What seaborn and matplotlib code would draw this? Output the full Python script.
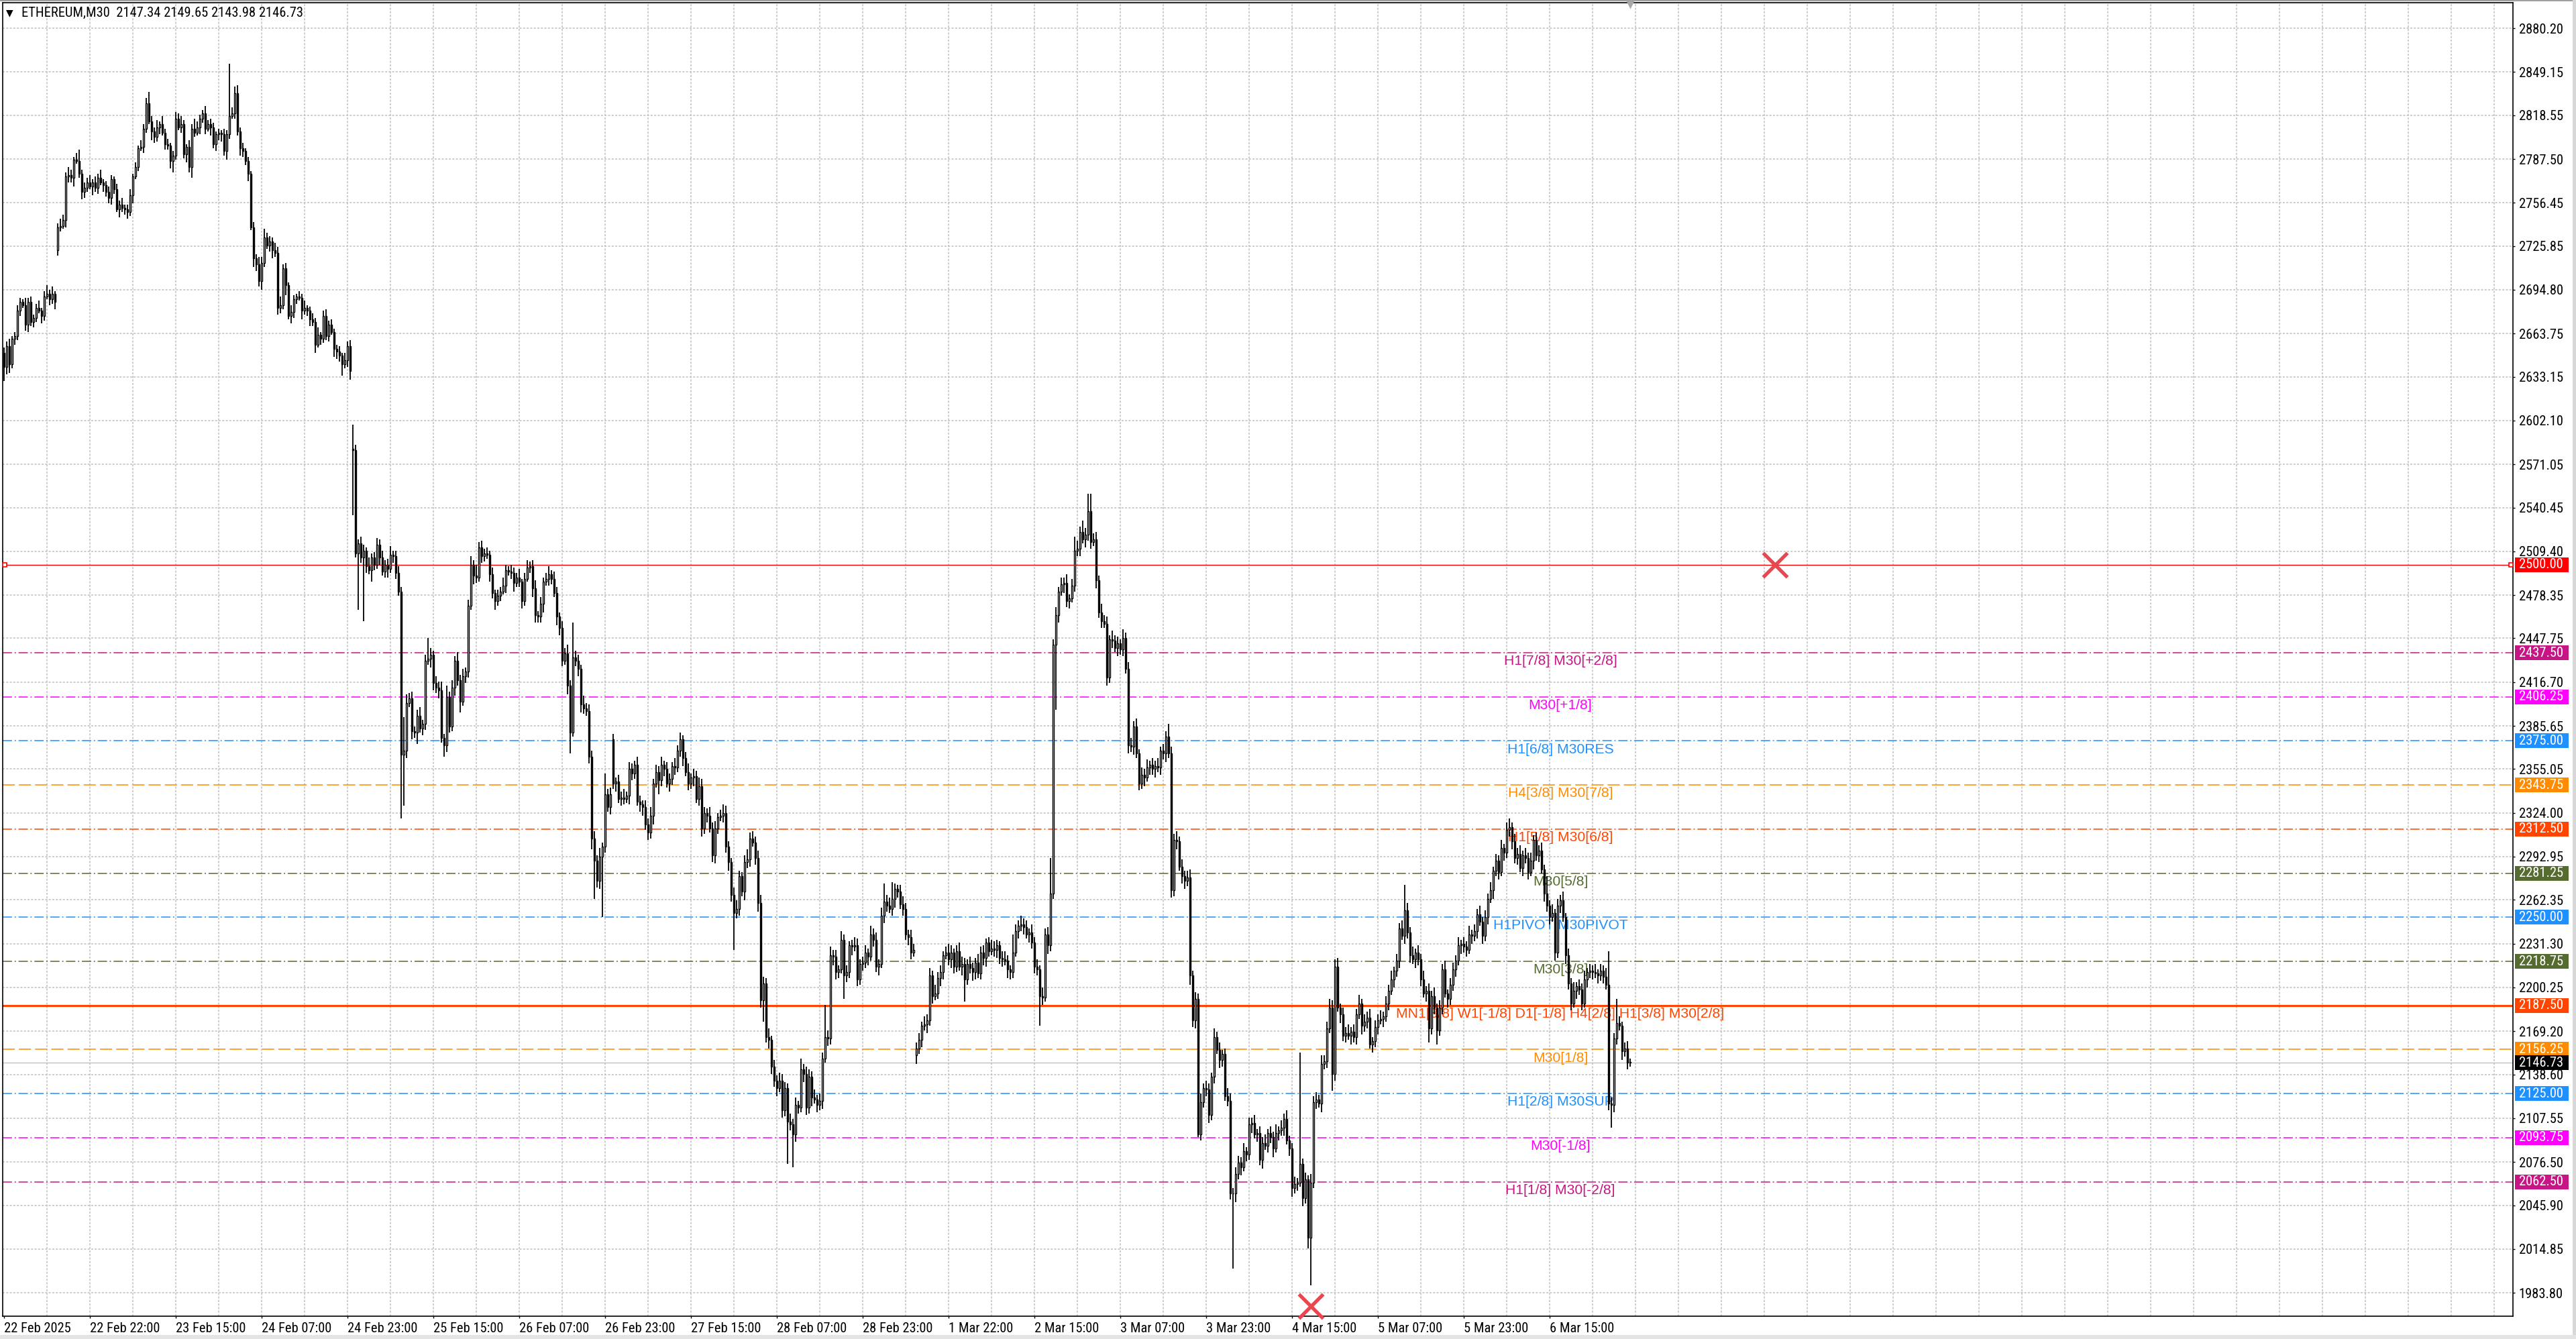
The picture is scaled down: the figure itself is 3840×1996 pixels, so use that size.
import numpy as np
import pandas as pd
import matplotlib
matplotlib.use("Agg")
import matplotlib.pyplot as plt
import matplotlib.transforms as mtransforms
from matplotlib import font_manager as fm
from matplotlib.patches import Rectangle
import seaborn as sns

# ---------------- data ----------------
first_open = 2650
closes = [
    2640, 2655, 2642, 2660, 2662, 2680, 2686, 2684, 2670, 2686, 2672, 2675, 2682, 2680, 2676, 2690, 2692, 2688, 2692, 2686,
    2739, 2740, 2744, 2775, 2776, 2774, 2787, 2786, 2777, 2764, 2767, 2771, 2768, 2771, 2767, 2774, 2771, 2769, 2764, 2760,
    2773, 2766, 2752, 2755, 2753, 2752, 2750, 2762, 2775, 2782, 2795, 2796, 2809, 2827, 2814, 2807, 2803, 2810, 2812, 2806,
    2798, 2797, 2786, 2790, 2816, 2810, 2812, 2791, 2796, 2782, 2809, 2806, 2810, 2816, 2820, 2809, 2812, 2810, 2798, 2805,
    2806, 2805, 2793, 2805, 2818, 2820, 2834, 2807, 2795, 2793, 2786, 2777, 2739, 2717, 2713, 2701, 2714, 2732, 2726, 2729,
    2723, 2721, 2682, 2684, 2710, 2698, 2676, 2679, 2688, 2690, 2689, 2680, 2682, 2680, 2674, 2672, 2656, 2663, 2660, 2676,
    2662, 2670, 2665, 2653, 2651, 2648, 2642, 2645, 2655, 2637,
    2581, 2508, 2515, 2505, 2510, 2499, 2496, 2505, 2500, 2514, 2505, 2495, 2500, 2497, 2507, 2506, 2494, 2481, 2365,
    2368, 2402, 2405, 2382, 2381, 2393, 2384, 2387, 2432, 2433,
    2436, 2416, 2413, 2411, 2377, 2372, 2406, 2385, 2413, 2432,
    2418, 2403, 2421, 2424, 2471, 2500, 2492, 2491, 2512, 2506,
    2508, 2507, 2493, 2480, 2474, 2478, 2481, 2485, 2496, 2495,
    2494, 2487, 2491, 2488, 2474, 2490, 2498, 2499, 2483, 2464,
    2463, 2472, 2488, 2490, 2493, 2490, 2480, 2463, 2455, 2432,
    2437, 2414, 2381, 2434, 2432, 2426, 2401, 2398, 2396, 2364,
    2306, 2290, 2276, 2293, 2300, 2337, 2328, 2337, 2345, 2346,
    2334, 2335, 2334, 2336, 2355, 2352, 2358, 2332, 2330, 2328,
    2316, 2310, 2322, 2345, 2353, 2347, 2358, 2355, 2345, 2348,
    2357, 2356, 2368, 2376, 2363, 2353, 2345, 2349, 2350, 2334,
    2343, 2313, 2324, 2322, 2313, 2294, 2313, 2321, 2322, 2324,
    2300, 2289, 2266, 2253, 2256, 2279, 2268, 2289, 2291, 2306,
    2303, 2292, 2260, 2191, 2203, 2165, 2163, 2144, 2134, 2129,
    2134, 2113, 2129, 2105, 2103, 2096, 2117, 2115, 2142, 2139,
    2115, 2137, 2122, 2121, 2117, 2120, 2150, 2165, 2164, 2223,
    2222, 2211, 2213, 2234, 2209, 2211, 2230, 2229, 2230, 2206,
    2217, 2218, 2225, 2222, 2238, 2234, 2215, 2217, 2251, 2261,
    2258, 2256, 2263, 2270, 2268, 2259, 2256, 2238, 2236, 2225,
    2227, 2157, 2163, 2173, 2174, 2177, 2209, 2194, 2196, 2207,
    2211, 2223, 2225, 2220, 2225, 2215, 2226, 2215, 2217, 2206,
    2217, 2214, 2211, 2218, 2210, 2225, 2221, 2232, 2226, 2228,
    2227, 2230, 2221, 2220, 2219, 2213, 2211, 2225, 2240, 2244,
    2245, 2243, 2238, 2239, 2232, 2215, 2213, 2194, 2193, 2238,
    2230, 2267, 2443, 2464, 2481, 2486, 2487, 2474, 2476, 2485,
    2510, 2511, 2523, 2518, 2521, 2538, 2516, 2518, 2489, 2466,
    2460, 2458, 2420, 2447, 2446, 2441, 2444, 2440, 2448, 2426,
    2372, 2371, 2385, 2366, 2345, 2351, 2349, 2356, 2358, 2355,
    2357, 2356, 2368, 2366, 2378, 2366, 2269, 2305, 2304, 2286,
    2279, 2276, 2278, 2209, 2177, 2192, 2096, 2119, 2129, 2128,
    2110, 2137, 2165, 2156, 2149, 2153, 2123, 2120, 2054, 2054,
    2068, 2076, 2073, 2084, 2082, 2103, 2104, 2096, 2097, 2078,
    2090, 2088, 2097, 2094, 2086, 2097, 2099, 2101, 2107, 2092,
    2086, 2058, 2061, 2062, 2075, 2051, 2064, 2023, 2062, 2119,
    2121, 2118, 2146, 2148, 2171, 2186, 2139, 2215, 2186, 2181,
    2166, 2168, 2166, 2169, 2165, 2181, 2189, 2173, 2176, 2179,
    2160, 2162, 2172, 2177, 2178, 2180, 2189, 2198, 2206, 2212,
    2219, 2242, 2237, 2255, 2239, 2223, 2220, 2225, 2220, 2206,
    2196, 2198, 2171, 2194, 2186, 2170, 2186, 2213, 2196, 2192,
    2202, 2213, 2219, 2230, 2231, 2229, 2227, 2238, 2237, 2240,
    2252, 2247, 2237, 2250, 2263, 2269, 2283, 2290, 2282, 2299,
    2296, 2312, 2314, 2304, 2292, 2295, 2285, 2294, 2292, 2282,
    2290, 2305, 2294, 2297, 2284, 2267, 2258, 2250, 2253, 2225,
    2258, 2262, 2250, 2223, 2203, 2189, 2198, 2201, 2199, 2189,
    2206, 2211, 2212, 2211, 2210, 2209, 2212, 2208, 2202, 2118,
    2117, 2164, 2175, 2173, 2155, 2157, 2147, 2146.73,
]
upper_wick = [
    4, 3, 5, 2, 3, 4, 3, 2, 5, 3, 4, 2, 3, 5, 2, 4, 6, 3, 5, 2,
    3, 5, 4, 3, 6, 4, 2, 5, 8, 3, 4, 3, 5, 2, 4, 3, 6, 2, 3, 4,
    3, 2, 4, 3, 5, 2, 3, 4, 2, 3, 2, 5, 3, 4, 8, 4, 3, 5, 2, 6,
    3, 4, 2, 3, 5, 4, 6, 3, 2, 5, 3, 7, 4, 3, 2, 5, 3, 4, 3, 2,
    3, 2, 4, 3, 37, 4, 5, 6, 3, 4, 2, 3, 2, 4, 3, 5, 4, 6, 3, 4,
    3, 5, 4, 6, 3, 4, 2, 5, 3, 2, 4, 3, 5, 2, 3, 4, 3, 5, 2, 4,
    5, 3, 4, 2, 3, 4, 2, 5, 3, 4, 0, 4, 3, 5, 4, 2, 6, 3, 4, 5,
    4, 5, 3, 4, 6, 3, 4, 5, 3, 2, 6, 4, 5, 3, 4, 6, 3, 4, 15, 5,
    3, 5, 4, 6, 3, 8, 4, 5, 3, 6, 4, 5, 3, 4, 6, 3, 8, 4, 5, 3,
    4, 3, 5, 2, 4, 3, 6, 4, 3, 5, 4, 3, 6, 2, 4, 5, 3, 4, 6, 3,
    5, 3, 4, 6, 3, 5, 4, 3, 5, 4, 6, 4, 25, 5, 4, 3, 6, 4, 5, 4,
    5, 4, 6, 3, 15, 4, 5, 4, 3, 5, 4, 6, 3, 5, 4, 3, 6, 4, 3, 5,
    4, 6, 3, 5, 4, 6, 3, 5, 4, 3, 6, 4, 5, 3, 4, 6, 3, 5, 4, 6,
    5, 4, 3, 6, 4, 5, 3, 4, 6, 5, 4, 3, 5, 6, 4, 3, 5, 7, 4, 5,
    4, 5, 6, 5, 4, 6, 3, 5, 4, 6, 5, 4, 3, 6, 4, 5, 3, 8, 4, 5,
    5, 4, 6, 3, 5, 4, 23, 5, 6, 4, 5, 3, 6, 4, 5, 3, 4, 6, 5, 3,
    4, 5, 3, 6, 4, 5, 3, 6, 13, 5, 6, 12, 4, 3, 5, 6, 4, 3, 5, 4,
    4, 5, 3, 6, 4, 5, 3, 6, 4, 5, 3, 4, 6, 5, 3, 4, 6, 5, 4, 3,
    5, 4, 3, 6, 4, 5, 3, 4, 6, 5, 4, 3, 5, 6, 4, 3, 13, 5, 4, 6,
    4, 5, 3, 6, 4, 5, 3, 6, 4, 5, 25, 4, 6, 3, 5, 4, 6, 3, 5, 10,
    6, 4, 8, 5, 12, 12, 4, 5, 3, 6, 4, 5, 3, 6, 4, 5, 3, 6, 4, 5,
    5, 4, 6, 3, 5, 4, 6, 3, 5, 4, 6, 3, 5, 4, 9, 5, 4, 6, 3, 5,
    4, 5, 6, 3, 5, 4, 6, 3, 5, 4, 3, 6, 4, 5, 3, 4, 6, 5, 4, 5,
    5, 4, 6, 3, 5, 4, 6, 3, 5, 4, 6, 3, 5, 4, 6, 3, 5, 4, 6, 3,
    4, 5, 3, 79, 4, 5, 3, 6, 4, 5, 3, 6, 4, 5, 6, 5, 5, 6, 3, 5,
    4, 6, 3, 5, 4, 6, 3, 5, 4, 6, 3, 5, 4, 6, 3, 5, 4, 6, 3, 5,
    4, 6, 18, 5, 4, 6, 3, 5, 4, 6, 3, 5, 4, 6, 3, 5, 4, 6, 3, 5,
    5, 4, 6, 3, 5, 4, 6, 3, 5, 4, 6, 3, 5, 4, 6, 3, 5, 4, 6, 3,
    5, 6, 3, 5, 4, 6, 3, 5, 4, 6, 3, 5, 4, 6, 3, 12, 4, 6, 3, 5,
    4, 6, 3, 5, 4, 6, 3, 5, 4, 6, 3, 5, 4, 6, 3, 5, 4, 6, 24, 4,
    4, 17, 5, 3, 4, 5, 0,
]
lower_wick = [
    10, 5, 6, 3, 4, 3, 4, 2, 4, 5, 3, 4, 3, 2, 5, 3, 2, 4, 3, 5,
    4, 3, 2, 5, 4, 3, 6, 2, 3, 5, 4, 3, 2, 6, 3, 4, 2, 5, 3, 4,
    5, 3, 2, 6, 3, 4, 5, 3, 6, 2, 3, 2, 4, 3, 2, 6, 4, 3, 5, 2,
    4, 3, 5, 8, 3, 2, 4, 3, 6, 4, 8, 3, 2, 5, 3, 4, 2, 6, 3, 5,
    4, 5, 3, 6, 3, 2, 4, 3, 5, 4, 3, 5, 2, 6, 5, 4, 6, 3, 2, 4,
    6, 3, 5, 4, 3, 7, 2, 5, 4, 3, 2, 6, 3, 4, 5, 3, 6, 2, 4, 3,
    3, 4, 2, 6, 5, 4, 8, 3, 5, 6, 0, 3, 40, 4, 45, 5, 3, 8, 4, 3,
    5, 3, 4, 6, 3, 5, 4, 3, 45, 3, 5, 3, 6, 4, 8, 3, 5, 4, 3, 6,
    5, 4, 6, 3, 8, 5, 4, 3, 6, 4, 8, 3, 5, 4, 3, 6, 4, 3, 5, 4,
    3, 5, 4, 6, 3, 4, 2, 5, 3, 4, 6, 3, 4, 5, 3, 2, 4, 6, 5, 4,
    4, 6, 3, 5, 4, 3, 6, 5, 4, 3, 6, 15, 3, 4, 5, 6, 4, 3, 5, 8,
    27, 5, 6, 43, 4, 3, 5, 4, 6, 3, 5, 4, 3, 6, 5, 4, 3, 5, 6, 4,
    5, 4, 6, 3, 10, 4, 5, 3, 6, 4, 5, 3, 4, 6, 3, 5, 4, 6, 3, 5,
    6, 4, 5, 3, 5, 6, 4, 3, 5, 4, 6, 5, 26, 4, 5, 3, 6, 4, 5, 3,
    5, 6, 5, 15, 4, 6, 5, 4, 6, 3, 5, 4, 30, 4, 23, 5, 4, 3, 6, 5,
    4, 6, 3, 5, 4, 6, 3, 5, 4, 6, 5, 4, 3, 17, 5, 4, 6, 3, 5, 4,
    5, 4, 6, 3, 5, 4, 6, 3, 5, 4, 3, 5, 6, 4, 3, 5, 4, 6, 5, 3,
    6, 4, 5, 3, 6, 4, 5, 3, 4, 6, 5, 3, 4, 6, 5, 4, 3, 6, 16, 4,
    4, 6, 5, 3, 4, 5, 6, 4, 3, 5, 6, 4, 5, 3, 6, 5, 4, 3, 5, 4,
    5, 3, 6, 4, 5, 4, 21, 5, 3, 6, 4, 4, 46, 5, 3, 6, 4, 5, 3, 4,
    4, 5, 3, 6, 4, 5, 3, 6, 4, 5, 3, 6, 4, 5, 3, 6, 4, 5, 3, 6,
    4, 6, 3, 5, 4, 6, 3, 5, 4, 6, 3, 5, 4, 6, 3, 5, 4, 6, 3, 5,
    6, 4, 7, 5, 6, 2, 4, 4, 5, 6, 4, 5, 3, 6, 5, 3, 4, 4, 53, 6,
    4, 6, 3, 5, 4, 6, 3, 5, 4, 6, 3, 5, 4, 6, 3, 5, 4, 6, 3, 5,
    6, 4, 5, 3, 6, 4, 8, 34, 4, 5, 3, 6, 4, 5, 3, 12, 5, 3, 6, 4,
    5, 3, 6, 4, 5, 3, 6, 4, 5, 3, 6, 4, 5, 3, 6, 4, 5, 3, 6, 4,
    5, 3, 6, 4, 5, 3, 6, 4, 5, 3, 6, 10, 4, 5, 10, 4, 5, 3, 6, 4,
    4, 5, 3, 6, 4, 5, 3, 6, 4, 5, 3, 6, 4, 5, 3, 6, 4, 5, 3, 6,
    4, 5, 6, 4, 5, 3, 6, 4, 5, 3, 6, 4, 5, 3, 6, 4, 5, 3, 6, 4,
    5, 3, 6, 4, 5, 3, 6, 4, 5, 3, 6, 4, 5, 3, 6, 4, 5, 3, 5, 16,
    5, 4, 3, 6, 4, 5, 0,
]
gap_opens = {20: 2723, 130: 2582, 227: 2376, 340: 2152, 606: 2147.34}
spike_high = {130: 2599, 149: 2392, 606: 2149.65}
spike_low = {130: 2535, 149: 2329, 606: 2143.98}

y_ticks = [2880.20, 2849.15, 2818.55, 2787.50, 2756.45, 2725.85, 2694.80, 2663.75,
           2633.15, 2602.10, 2571.05, 2540.45, 2509.40, 2478.35, 2447.75, 2416.70,
           2385.65, 2355.05, 2324.00, 2292.95, 2262.35, 2231.30, 2200.25, 2169.20,
           2138.60, 2107.55, 2076.50, 2045.90, 2014.85, 1983.80]
x_tick_labels = ["22 Feb 2025", "22 Feb 22:00", "23 Feb 15:00", "24 Feb 07:00", "24 Feb 23:00",
                 "25 Feb 15:00", "26 Feb 07:00", "26 Feb 23:00", "27 Feb 15:00", "28 Feb 07:00",
                 "28 Feb 23:00", "1 Mar 22:00", "2 Mar 15:00", "3 Mar 07:00", "3 Mar 23:00",
                 "4 Mar 15:00", "5 Mar 07:00", "5 Mar 23:00", "6 Mar 15:00"]
level_prices = [2437.50, 2406.25, 2375.00, 2343.75, 2312.50, 2281.25, 2250.00,
                2218.75, 2187.50, 2156.25, 2125.00, 2093.75, 2062.50]
level_labels = ["H1[7/8] M30[+2/8]", "M30[+1/8]", "H1[6/8] M30RES", "H4[3/8] M30[7/8]",
                "H1[5/8] M30[6/8]", "M30[5/8]", "H1PIVOT M30PIVOT", "M30[3/8]",
                "MN1[3/8] W1[-1/8] D1[-1/8] H4[2/8] H1[3/8] M30[2/8]", "M30[1/8]",
                "H1[2/8] M30SUP", "M30[-1/8]", "H1[1/8] M30[-2/8]"]
round_level = 2500.00
symbol_title = "ETHEREUM,M30  2147.34 2149.65 2143.98 2146.73"
current_price = 2146.73
cross_bars = [660, 487]
cross_prices = [2500.0, 1974.5]

# ---------------- styles ----------------
level_colors = ["#C71585", "#FF00FF", "#1E90FF", "#FF8C00", "#FF4500", "#556B2F", "#1E90FF",
                "#556B2F", "#FF4500", "#FF8C00", "#1E90FF", "#FF00FF", "#C71585"]
level_styles = ["dashdot", "dashdot", "dashdot", "dash", "dashdot", "dashdot", "dashdot",
                "dashdot", "solid", "dash", "dashdot", "dashdot", "dashdot"]


def font_available(name):
    try:
        fm.findfont(fm.FontProperties(family=name), fallback_to_default=False)
        return True
    except Exception:
        return False


if font_available("Liberation Sans Narrow"):
    NARROW, UI_SIZE = ["Liberation Sans Narrow", "DejaVu Sans"], 7.8
elif font_available("Roboto Condensed"):
    NARROW, UI_SIZE = ["Roboto Condensed", "DejaVu Sans"], 7.4
else:
    NARROW, UI_SIZE = ["Liberation Sans", "DejaVu Sans"], 6.7
ARIAL = ["Liberation Sans", "DejaVu Sans"]

# ---------------- build OHLC ----------------
n = len(closes)
opens, highs, lows = [], [], []
prev = first_open
for i in range(n):
    o = gap_opens.get(i, prev)
    c = closes[i]
    h = max(o, c) + upper_wick[i]
    lo = min(o, c) - lower_wick[i]
    h = spike_high.get(i, h)
    lo = spike_low.get(i, lo)
    opens.append(o); highs.append(h); lows.append(lo)
    prev = c
df = pd.DataFrame({"bar": np.arange(n), "open": opens, "high": highs,
                   "low": lows, "close": closes})

# ---------------- figure ----------------
W, H, DPI = 3840, 1996, 200
sns.set_theme(style="white")
plt.rcParams["font.family"] = NARROW
plt.rcParams["lines.scale_dashes"] = False
plt.rcParams["axes.unicode_minus"] = False

fig = plt.figure(figsize=(W / DPI, H / DPI), dpi=DPI, facecolor="white")
PL, PR, PT, PB = 4, 3746, 4, 1962
ax = fig.add_axes([PL / W, 1 - PB / H, (PR - PL) / W, (PB - PT) / H])
ax.set_facecolor("white")
XMIN, XMAX = -0.5, 935
YMIN, YMAX = 1967.2, 2898.3
ax.set_xlim(XMIN, XMAX)
ax.set_ylim(YMIN, YMAX)
px_per_unit = (PB - PT) / (YMAX - YMIN)

# grid
grid_kw = dict(color="#C0C0C0", lw=0.55, dashes=(1.1, 0.8), zorder=0.5)
for yv in y_ticks:
    ax.axhline(yv, **grid_kw)
for xb in range(16, 935, 16):
    ax.axvline(xb, **grid_kw)

# level lines and labels
for p, lab, col, sty in zip(level_prices, level_labels, level_colors, level_styles):
    if sty == "solid":
        ax.axhline(p, color=col, lw=1.1, zorder=1)
    elif sty == "dash":
        ax.axhline(p, color=col, lw=0.55, dashes=(6.5, 2.2), zorder=1)
    else:
        ax.axhline(p, color=col, lw=0.55, dashes=(5.0, 1.4, 0.7, 1.4), zorder=1)
    ax.text(580, p - 1.5, lab, color=col, ha="center", va="top", fontsize=7.6,
            family=ARIAL, zorder=1.6)

ax.axhline(round_level, color="#F00000", lw=0.5, zorder=1.2)
ax.plot([0.3, 934.2], [round_level, round_level], ls="none", marker="s", ms=2.4,
        mfc="white", mec="#FF0000", mew=0.6, clip_on=False, zorder=5)
ax.axhline(current_price, color="#C0C0C0", lw=0.5, zorder=1.1)

# candles
x = df["bar"].to_numpy()
o = df["open"].to_numpy(float)
c = df["close"].to_numpy(float)
ax.vlines(x, df["low"], df["high"], color="black", lw=0.65, zorder=2)
bull = c >= o
ax.bar(x[bull], (c - o)[bull], bottom=o[bull], width=0.74, color="white",
       edgecolor="black", linewidth=0.5, zorder=3)
ax.bar(x[~bull], (c - o)[~bull], bottom=o[~bull], width=0.74, color="black",
       edgecolor="black", linewidth=0.5, zorder=3)

# cross markers
sns.scatterplot(x=cross_bars, y=cross_prices, ax=ax, marker="x", s=170,
                color="#E8474F", linewidth=1.9, zorder=8, legend=False, clip_on=False)

# chart shift marker at top
ax.plot([n - 1], [YMAX], marker="v", ms=4.5, color="#A8A8A8", clip_on=False, zorder=9)

# axes / ticks
ax.yaxis.tick_right()
ax.set_yticks(y_ticks)
ax.set_yticklabels([f"{v:.2f}" for v in y_ticks])
ax.tick_params(axis="y", which="major", right=True, left=False, length=1.2, width=0.5,
               pad=2.0, labelsize=UI_SIZE, colors="black", direction="out")
ax.set_xticks([32 * k for k in range(len(x_tick_labels))])
ax.set_xticklabels(x_tick_labels)
ax.tick_params(axis="x", which="major", bottom=True, length=1.2, width=0.5, pad=2.0,
               labelsize=UI_SIZE, colors="black", direction="out")
for lbl in ax.get_xticklabels():
    lbl.set_ha("left")
    lbl.set_family(NARROW)
for lbl in ax.get_yticklabels():
    lbl.set_family(NARROW)
ax.set_xlabel("")
ax.set_ylabel("")
for sp in ax.spines.values():
    sp.set_visible(True)
    sp.set_color("black")
    sp.set_linewidth(0.6)

# price boxes on right scale
trans = mtransforms.blended_transform_factory(fig.transFigure, ax.transData)
box_h = 22 / px_per_unit
box_list = [(round_level, "#FF0000")] + list(zip(level_prices, level_colors)) + [(current_price, "#000000")]
for p, col in box_list:
    ax.add_patch(Rectangle((3749 / W, p - box_h / 2), 80 / W, box_h, transform=trans,
                           facecolor=col, edgecolor="none", clip_on=False, zorder=6))
    ax.text(3755 / W, p, f"{p:.2f}", transform=trans, color="white", ha="left",
            va="center", fontsize=UI_SIZE, family=NARROW, clip_on=False, zorder=7)

# title
fig.text(32 / W, 1 - 19 / H, symbol_title, ha="left", va="center", fontsize=UI_SIZE,
         family=NARROW, color="black")
fig.text(14 / W, 1 - 19 / H, "\u25BC", ha="center", va="center", fontsize=5,
         family=["DejaVu Sans"], color="black")

# window chrome
fig.patches.append(Rectangle((0, 1 - 2 / H), 1, 2 / H, transform=fig.transFigure,
                             facecolor="#A0A0A0", edgecolor="none"))
fig.patches.append(Rectangle((3835 / W, 0), 5 / W, 1, transform=fig.transFigure,
                             facecolor="#D8D8D8", edgecolor="none"))
fig.patches.append(Rectangle((0, 0), 1, 6 / H, transform=fig.transFigure,
                             facecolor="#E4E4E4", edgecolor="none"))

fig.savefig("out.png", dpi=DPI, facecolor="white")
